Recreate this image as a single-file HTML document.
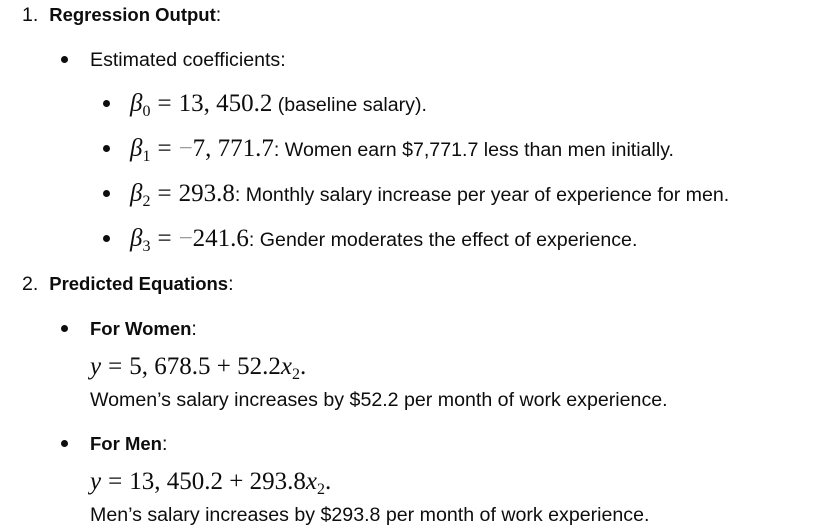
<!DOCTYPE html>
<html><head><meta charset="utf-8"><style>
body{margin:0;width:840px;height:528px;background:#fff;position:relative;overflow:hidden;font-family:"Liberation Sans",sans-serif;color:#0d0d0d;font-size:19.6px}
.l{position:absolute;white-space:nowrap;line-height:24px}
.m{font-family:"Liberation Serif",serif;font-size:25px}
.i{font-style:italic}
.b{font-weight:bold;font-size:18.5px}
.e{margin:0 7px}
.dot{position:absolute;width:7px;height:7px;border-radius:50%;background:#0d0d0d}
sub{font-size:16px;vertical-align:-5px;line-height:0}
</style></head><body>
<div class="l" style="left:22px;top:3px">1.&nbsp; <span class="b">Regression Output</span>:</div>
<div class="dot" style="left:61px;top:56px"></div>
<div class="l" style="left:90px;top:48px">Estimated coefficients:</div>
<div class="dot" style="left:103px;top:100px"></div>
<div class="l" style="left:130px;top:92px"><span class="m"><span class="i">β</span><sub>0</sub><span class="e">=</span>13, 450.2</span> (baseline salary).</div>
<div class="dot" style="left:103px;top:145px"></div>
<div class="l" style="left:130px;top:137px"><span class="m"><span class="i">β</span><sub>1</sub><span class="e">=</span><span style="color:#999">−</span>7, 771.7</span>: Women earn $7,771.7 less than men initially.</div>
<div class="dot" style="left:103px;top:190px"></div>
<div class="l" style="left:130px;top:182px"><span class="m"><span class="i">β</span><sub>2</sub><span class="e">=</span>293.8</span>: Monthly salary increase per year of experience for men.</div>
<div class="dot" style="left:103px;top:235px"></div>
<div class="l" style="left:130px;top:227px"><span class="m"><span class="i">β</span><sub>3</sub><span class="e">=</span><span style="color:#999">−</span>241.6</span>: Gender moderates the effect of experience.</div>
<div class="l" style="left:22px;top:272px">2.&nbsp; <span class="b">Predicted Equations</span>:</div>
<div class="dot" style="left:61px;top:325px"></div>
<div class="l" style="left:90px;top:317px"><span class="b">For Women</span>:</div>
<div class="l" style="left:90px;top:355px"><span class="m"><span class="i">y</span><span class="e">=</span>5, 678.5 + 52.2<span class="i">x</span><sub>2</sub>.</span></div>
<div class="l" style="left:90px;top:388px">Women’s salary increases by $52.2 per month of work experience.</div>
<div class="dot" style="left:61px;top:440px"></div>
<div class="l" style="left:90px;top:432px"><span class="b">For Men</span>:</div>
<div class="l" style="left:90px;top:470px"><span class="m"><span class="i">y</span><span class="e">=</span>13, 450.2 + 293.8<span class="i">x</span><sub>2</sub>.</span></div>
<div class="l" style="left:90px;top:503px">Men’s salary increases by $293.8 per month of work experience.</div>
</body></html>
